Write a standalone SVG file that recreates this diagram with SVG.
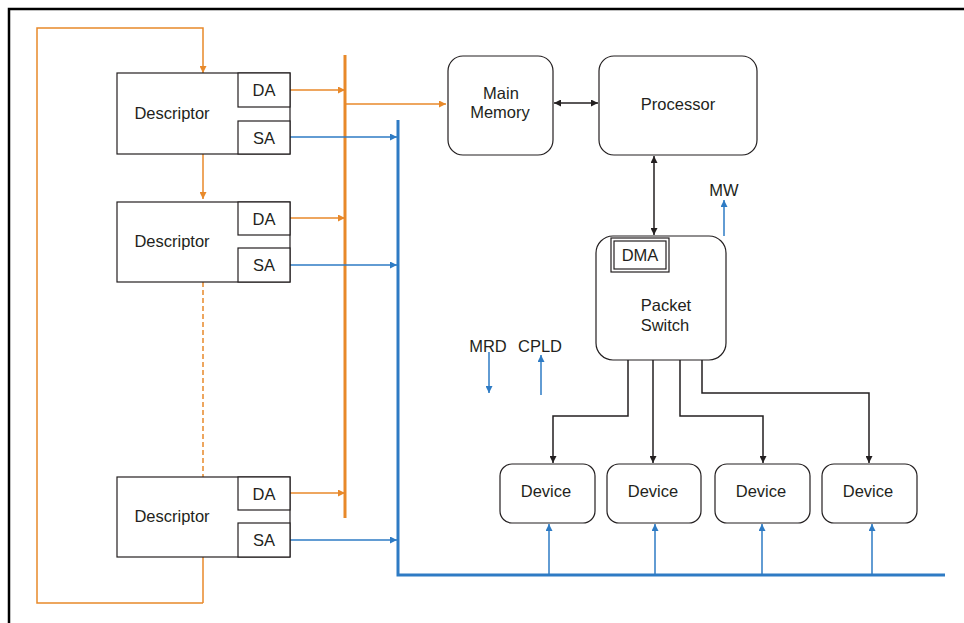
<svg xmlns="http://www.w3.org/2000/svg" width="964" height="623" viewBox="0 0 964 623">
<defs>
<style>
.t{font-family:"Liberation Sans",Arial,sans-serif;font-size:16.5px;fill:#231f20;text-anchor:middle}
.box{fill:#fff;stroke:#231f20;stroke-width:1.2}
.sub{fill:#fff;stroke:#231f20;stroke-width:1.2}
.or{stroke:#e8892a;stroke-width:1.5;fill:none}
.bl{stroke:#2e7bc4;stroke-width:1.5;fill:none}
.bk{stroke:#231f20;stroke-width:1.5;fill:none}
</style>
<marker id="ao" viewBox="0 0 10 10" refX="10" refY="5" markerWidth="7" markerHeight="7" orient="auto-start-reverse" markerUnits="userSpaceOnUse"><path d="M0,0L10,5L0,10z" fill="#e8892a"/></marker>
<marker id="ab" viewBox="0 0 10 10" refX="10" refY="5" markerWidth="7" markerHeight="7" orient="auto-start-reverse" markerUnits="userSpaceOnUse"><path d="M0,0L10,5L0,10z" fill="#2e7bc4"/></marker>
<marker id="ak" viewBox="0 0 10 10" refX="10" refY="5" markerWidth="7" markerHeight="7" orient="auto-start-reverse" markerUnits="userSpaceOnUse"><path d="M0,0L10,5L0,10z" fill="#231f20"/></marker>
</defs>
<rect width="964" height="623" fill="#fff"/>
<path d="M9,623V9H964" fill="none" stroke="#000" stroke-width="2.5"/>

<g id="connectors">
<path class="or" d="M203,603H37V28H203V73" marker-end="url(#ao)"/>
<path class="or" d="M203,557V603"/>
<path class="or" d="M203,154V199" marker-end="url(#ao)"/>
<path class="or" d="M203,282V477" stroke-dasharray="5,3"/>
<path d="M345,55V518" stroke="#e8892a" stroke-width="3"/>
<path class="or" d="M290,90H345" marker-end="url(#ao)"/>
<path class="or" d="M290,218H345" marker-end="url(#ao)"/>
<path class="or" d="M290,493H345" marker-end="url(#ao)"/>
<path class="or" d="M345,104H446" marker-end="url(#ao)"/>
<path d="M398,120V575H945" stroke="#2e7bc4" stroke-width="3" fill="none"/>
<path class="bl" d="M290,137H397" marker-end="url(#ab)"/>
<path class="bl" d="M290,265H397" marker-end="url(#ab)"/>
<path class="bl" d="M290,540H397" marker-end="url(#ab)"/>
<path class="bk" d="M554,103H598" marker-start="url(#ak)" marker-end="url(#ak)"/>
<path class="bk" d="M654,156V235" marker-start="url(#ak)" marker-end="url(#ak)"/>
<path class="bl" d="M724,236V200" marker-end="url(#ab)"/>
<path class="bl" d="M489,352V393" marker-end="url(#ab)"/>
<path class="bl" d="M541,395V355" marker-end="url(#ab)"/>
<path class="bk" d="M628,360V416H553V463" marker-end="url(#ak)"/>
<path class="bk" d="M653,360V463" marker-end="url(#ak)"/>
<path class="bk" d="M680,360V416H763V463" marker-end="url(#ak)"/>
<path class="bk" d="M702,360V393H869V463" marker-end="url(#ak)"/>
<path class="bl" d="M549,575V524" marker-end="url(#ab)"/>
<path class="bl" d="M655,575V524" marker-end="url(#ab)"/>
<path class="bl" d="M762,575V524" marker-end="url(#ab)"/>
<path class="bl" d="M872,575V524" marker-end="url(#ab)"/>
</g>

<g id="desc1">
<rect class="box" x="117" y="73" width="173" height="81"/>
<rect class="sub" x="238" y="73" width="52" height="34"/>
<rect class="sub" x="238" y="121" width="52" height="33"/>
<text class="t" x="172" y="119">Descriptor</text>
<text class="t" x="264" y="95.5">DA</text>
<text class="t" x="264" y="143.5">SA</text>
</g>
<g id="desc2">
<rect class="box" x="117" y="202" width="173" height="80"/>
<rect class="sub" x="238" y="202" width="52" height="33"/>
<rect class="sub" x="238" y="248" width="52" height="34"/>
<text class="t" x="172" y="247">Descriptor</text>
<text class="t" x="264" y="224.5">DA</text>
<text class="t" x="264" y="270.5">SA</text>
</g>
<g id="desc3">
<rect class="box" x="117" y="477" width="173" height="80"/>
<rect class="sub" x="238" y="477" width="52" height="33"/>
<rect class="sub" x="238" y="523" width="52" height="34"/>
<text class="t" x="172" y="522">Descriptor</text>
<text class="t" x="264" y="499.5">DA</text>
<text class="t" x="264" y="545.5">SA</text>
</g>
<g id="mainmem">
<rect class="box" x="448" y="56" width="105" height="99" rx="15"/>
<text class="t" x="501" y="99">Main</text>
<text class="t" x="500" y="118">Memory</text>
</g>
<g id="processor">
<rect class="box" x="599" y="56" width="158" height="99" rx="15"/>
<text class="t" x="678" y="109.5">Processor</text>
</g>
<g id="packetswitch">
<rect class="box" x="596" y="236" width="130" height="124" rx="17"/>
<rect class="sub" x="611" y="238" width="58" height="34"/>
<rect class="sub" x="614" y="241" width="52" height="28"/>
<text class="t" x="640" y="260.5">DMA</text>
<text class="t" x="666" y="310.5">Packet</text>
<text class="t" x="665" y="331">Switch</text>
</g>
<g id="labels">
<text class="t" x="724" y="195.5">MW</text>
<text class="t" x="488" y="351.5">MRD</text>
<text class="t" x="540" y="351.5">CPLD</text>
</g>
<g id="dev1"><rect class="box" x="500" y="464" width="95" height="59" rx="12"/><text class="t" x="546" y="496.5">Device</text></g>
<g id="dev2"><rect class="box" x="607" y="464" width="94" height="59" rx="12"/><text class="t" x="653" y="496.5">Device</text></g>
<g id="dev3"><rect class="box" x="715" y="464" width="95" height="59" rx="12"/><text class="t" x="761" y="496.5">Device</text></g>
<g id="dev4"><rect class="box" x="822" y="464" width="95" height="59" rx="12"/><text class="t" x="868" y="496.5">Device</text></g>
</svg>
